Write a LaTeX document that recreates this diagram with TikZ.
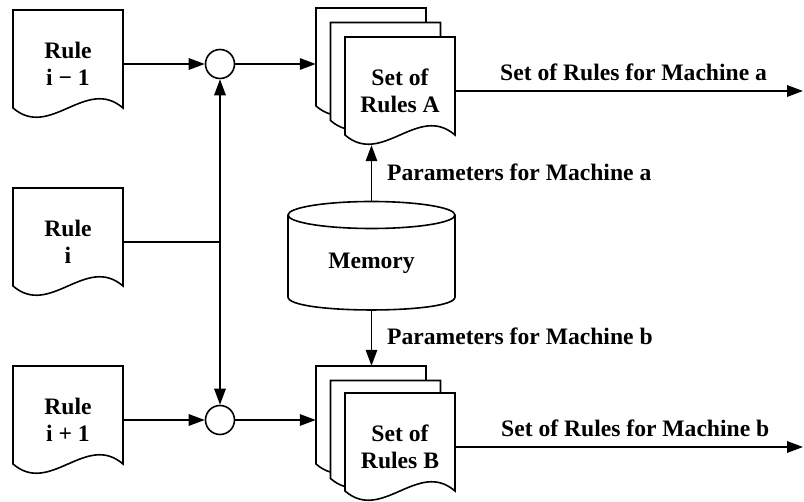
\documentclass[tikz,border=0pt]{standalone}
\usepackage{fontspec}
\setmainfont{Liberation Serif}
\usetikzlibrary{arrows.meta}
\tikzset{
  shapeline/.style={line width=1.6pt, line join=miter},
  conn/.style={line width=1.6pt},
  arr/.style={conn, -{Triangle[length=16pt,width=11.5pt]}},
  docnode/.style={draw=none, minimum width=110pt, minimum height=108pt, inner sep=0pt, align=center},
  lbl/.style={inner sep=0pt},
  junc/.style={circle, draw, line width=1.6pt, fill=white, minimum size=29pt, inner sep=0pt},
}
\newcommand\docshape[2]{%
  \begin{scope}[shift={(#1,#2)}]
    \draw[shapeline, fill=white] (0,0) -- (110,0) -- (110,98)
      .. controls (73,66) and (37,130) .. (0,98) -- cycle;
  \end{scope}}
\begin{document}
\begin{tikzpicture}[x=1pt,y=-1pt, font=\bfseries\fontsize{23.6}{27.5}\selectfont]
\useasboundingbox (0,0) rectangle (804,502);

% Rule documents
\docshape{13}{10}
\node[docnode] (r1) at (68,64) {Rule\\i − 1};
\docshape{13}{188}
\node[docnode] (r2) at (68,242) {Rule\\i};
\docshape{13}{366}
\node[docnode] (r3) at (68,420) {Rule\\i + 1};

% Junction circles
\node[junc] (c1) at (220,64) {};
\node[junc] (c2) at (220,420) {};

% Stack A
\docshape{316}{8}
\node[docnode] (bA1) at (371,62) {};
\docshape{330.5}{22.5}
\node[docnode] (bA2) at (385.5,76.5) {};
\docshape{345}{37}
\node[docnode] (fA) at (400,91) {Set of\\Rules A};

% Stack B
\docshape{316}{366}
\node[docnode] (bB1) at (371,420) {};
\docshape{330.5}{380.5}
\node[docnode] (bB2) at (385.5,434.5) {};
\docshape{345}{393}
\node[docnode] (fB) at (400,447) {Set of\\Rules B};

% Memory cylinder
\draw[shapeline, fill=white] (288,215) -- (288,297)
  .. controls (288,314.3) and (455,314.3) .. (455,297) -- (455,215);
\draw[shapeline, fill=white] (371.5,215) ellipse [x radius=83.5, y radius=13.5];
\node[draw=none, minimum width=167pt, minimum height=108pt, inner sep=0pt] (mem) at (371.5,256) {};
\node[lbl] (memtxt) at (371.5,263) {Memory};

% Connectors
\draw[arr] (r1.east) -- (c1.west);
\draw[arr] (r3.east) -- (c2.west);
\draw[conn] (r2.east) -- (r2.east -| c1.south);
\draw[conn, {Triangle[length=16pt,width=11.5pt]}-{Triangle[length=16pt,width=11.5pt]}] (c1.south) -- (c2.north);
\draw[arr] (c1.east) -- (c1.east -| bA1.west);
\draw[arr] (c2.east) -- (c2.east -| bB1.west);
\draw[arr] (mem.north) -- (mem.north |- fA.south);
\draw[arr] (mem.south) -- (mem.south |- bB1.north);

\coordinate (endA) at (803,91);
\coordinate (endB) at (803,447);
\draw[arr] (fA.east) -- (endA);
\draw[arr] (fB.east) -- (endB);

% Labels
\node[lbl, anchor=base west] (lA) at (500,81) {Set of Rules for Machine a};
\node[lbl, anchor=base west] (lB) at (501,437) {Set of Rules for Machine b};
\node[lbl, anchor=base west] (pA) at (387,181) {Parameters for Machine a};
\node[lbl, anchor=base west] (pB) at (387,345) {Parameters for Machine b};
\end{tikzpicture}
\end{document}
